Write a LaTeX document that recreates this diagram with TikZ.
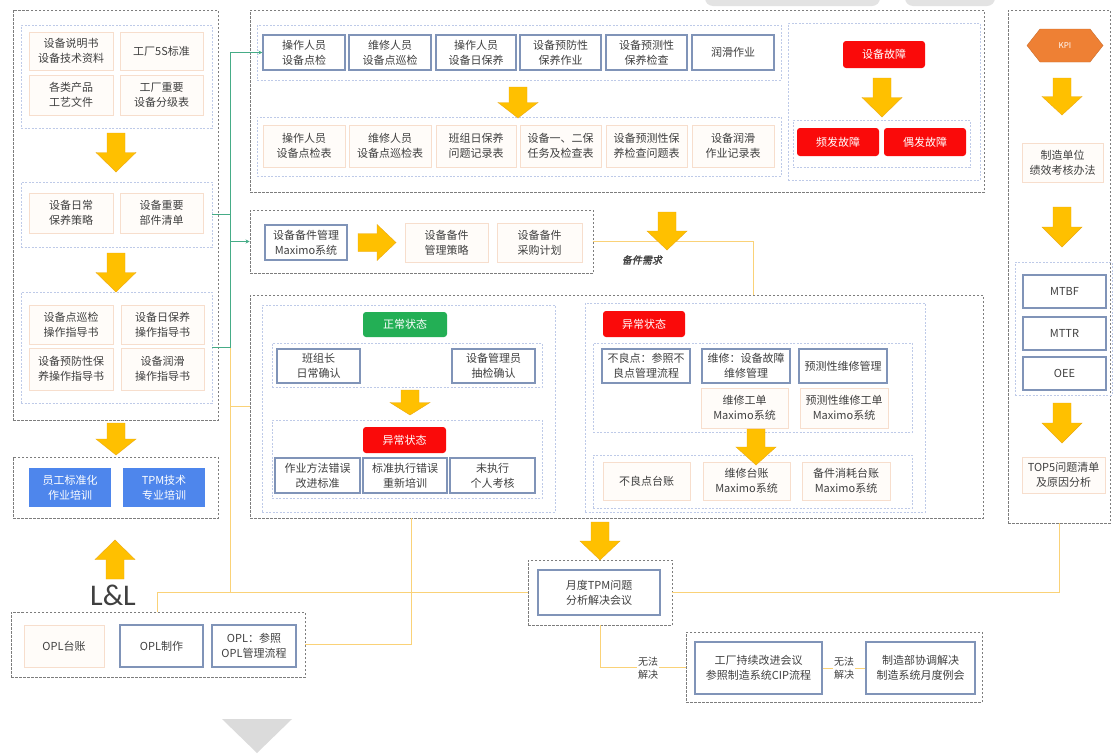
\documentclass[tikz,border=0pt]{standalone}
\usepackage{fontspec}
\setmainfont{Noto Sans CJK SC}
\newfontfamily\carl{Carlito}
\newfontfamily\cjkit[FakeSlant=0.2,FakeBold=1.5]{Noto Sans CJK SC}
\usetikzlibrary{arrows.meta}
\definecolor{txt}{RGB}{64,64,64}
\definecolor{bluebd}{RGB}{128,148,184}
\definecolor{peachbd}{RGB}{247,222,205}
\definecolor{peachf}{RGB}{255,252,249}
\definecolor{grpbd}{RGB}{190,202,232}
\definecolor{outbd}{RGB}{125,125,125}
\definecolor{arrY}{RGB}{255,192,0}
\definecolor{arrE}{RGB}{235,170,20}
\definecolor{redf}{RGB}{250,10,10}
\definecolor{greenf}{RGB}{35,175,85}
\definecolor{bluef}{RGB}{78,134,236}
\definecolor{orangef}{RGB}{238,128,52}
\definecolor{glc}{RGB}{70,172,135}
\definecolor{ylc}{RGB}{250,210,120}
\tikzset{
 box/.style={draw, align=center, inner sep=0pt, font=\fontsize{11}{15}\selectfont, text=txt},
 bluebox/.style={box, draw=bluebd, line width=1.1pt, fill=white},
 peachbox/.style={box, draw=peachbd, line width=0.6pt, fill=peachf},
 redbox/.style={box, draw=none, fill=redf, rounded corners=3pt, text=white},
 greenbox/.style={box, draw=none, fill=greenf, rounded corners=3pt, text=white},
 bluefbox/.style={box, draw=none, fill=bluef, text=white},
 outer/.style={draw=outbd, dash pattern=on 2.5pt off 1.5pt, line width=0.9pt, inner sep=0pt},
 grp/.style={draw=grpbd, dash pattern=on 2pt off 1.5pt, line width=0.7pt, inner sep=0pt},
 gl/.style={draw=glc, line width=1pt},
 yl/.style={draw=ylc, line width=1pt},
 blockarrow/.style={fill=arrY, draw=arrE, line width=0.4pt},
 lbl/.style={font=\fontsize{10}{13}\selectfont, text=txt, align=center, fill=white, inner sep=1pt}
}
\newcommand\bx[7]{\node[#2, minimum width={(#5)-(#3)}, minimum height={(#6)-(#4)}] (#1) at ({((#3)+(#5))/2},{((#4)+(#6))/2}) {#7};}
\newcommand\darr[3]{\filldraw[blockarrow] ({#1-9},#2) -- ({#1+9},#2) -- ({#1+9},{#2+0.5*(#3-#2)}) -- ({#1+20},{#2+0.5*(#3-#2)}) -- (#1,#3) -- ({#1-20},{#2+0.5*(#3-#2)}) -- ({#1-9},{#2+0.5*(#3-#2)}) -- cycle;}
\newcommand\rarr[3]{\filldraw[blockarrow] (#2,{#1-9}) -- (#2,{#1+9}) -- ({#2+0.5*(#3-#2)},{#1+9}) -- ({#2+0.5*(#3-#2)},{#1+18}) -- (#3,#1) -- ({#2+0.5*(#3-#2)},{#1-18}) -- ({#2+0.5*(#3-#2)},{#1-9}) -- cycle;}
\begin{document}
\begin{tikzpicture}[x=1pt,y=-1pt]
\useasboundingbox (0,0) rectangle (1115,753);
\fill[white] (0,0) rectangle (1115,753);
% faint shapes at the top edge and bottom
\fill[gray!22, rounded corners=8pt] (705,-12) rectangle (880,6);
\fill[gray!22, rounded corners=8pt] (905,-12) rectangle (995,6);
\fill[gray!28] (222,719) -- (292,719) -- (257,753) -- cycle;

% ---------- left column ----------
\bx{L}{outer}{13}{10}{218}{420}{}
\bx{LG1}{grp}{21}{25}{212}{128}{}
\bx{LG2}{grp}{21}{182}{212}{247}{}
\bx{LG3}{grp}{21}{292}{212}{403}{}
\bx{l1a}{peachbox}{29}{32}{113}{70}{设备说明书\\设备技术资料}
\bx{l1b}{peachbox}{120}{32}{203}{70}{工厂5S标准}
\bx{l1c}{peachbox}{29}{75}{113}{115}{各类产品\\工艺文件}
\bx{l1d}{peachbox}{120}{75}{203}{115}{工厂重要\\设备分级表}
\bx{l2a}{peachbox}{29}{193}{113}{233}{设备日常\\保养策略}
\bx{l2b}{peachbox}{120}{193}{203}{233}{设备重要\\部件清单}
\bx{l3a}{peachbox}{29}{305}{113}{344}{设备点巡检\\操作指导书}
\bx{l3b}{peachbox}{121}{305}{204}{344}{设备日保养\\操作指导书}
\bx{l3c}{peachbox}{29}{348}{113}{390}{设备预防性保\\养操作指导书}
\bx{l3d}{peachbox}{121}{348}{204}{390}{设备润滑\\操作指导书}
\bx{LT}{outer}{13}{457}{218}{518}{}
\bx{t1}{bluefbox}{29}{468}{111}{507}{员工标准化\\作业培训}
\bx{t2}{bluefbox}{123}{468}{205}{507}{TPM技术\\专业培训}
\node[font=\carl\fontsize{30}{30}\selectfont, text=txt] (LL) at (113,595) {L\&L};
\bx{OPL}{outer}{11}{612}{305}{677}{}
\bx{o1}{peachbox}{24}{625}{104}{667}{OPL台账}
\bx{o2}{bluebox}{120}{625}{203}{667}{OPL制作}
\bx{o3}{bluebox}{212}{625}{296}{667}{OPL：参照\\OPL管理流程}

% ---------- top group ----------
\bx{T}{outer}{250}{10}{984}{192}{}
\bx{TA}{grp}{257}{25}{781}{80}{}
\bx{TB}{grp}{257}{117}{781}{176}{}
\bx{TC}{grp}{788}{23}{980}{180}{}
\bx{TC2}{grp}{793}{120}{970}{167}{}
\bx{r1a}{bluebox}{263}{35}{345}{70}{操作人员\\设备点检}
\bx{r1b}{bluebox}{349}{35}{431}{70}{维修人员\\设备点巡检}
\bx{r1c}{bluebox}{436}{35}{516}{70}{操作人员\\设备日保养}
\bx{r1d}{bluebox}{520}{35}{601}{70}{设备预防性\\保养作业}
\bx{r1e}{bluebox}{606}{35}{687}{70}{设备预测性\\保养检查}
\bx{r1f}{bluebox}{692}{35}{774}{70}{润滑作业}
\bx{r2a}{peachbox}{263}{125}{345}{167}{操作人员\\设备点检表}
\bx{r2b}{peachbox}{349}{125}{431}{167}{维修人员\\设备点巡检表}
\bx{r2c}{peachbox}{436}{125}{516}{167}{班组日保养\\问题记录表}
\bx{r2d}{peachbox}{520}{125}{601}{167}{设备一、二保\\任务及检查表}
\bx{r2e}{peachbox}{606}{125}{687}{167}{设备预测性保\\养检查问题表}
\bx{r2f}{peachbox}{692}{125}{774}{167}{设备润滑\\作业记录表}
\bx{f0}{redbox}{843}{41}{925}{68}{设备故障}
\bx{f1}{redbox}{797}{128}{879}{156}{频发故障}
\bx{f2}{redbox}{884}{128}{966}{156}{偶发故障}

% ---------- spare parts ----------
\bx{S}{outer}{250}{210}{593}{273}{}
\bx{s1}{bluebox}{265}{225}{347}{260}{设备备件管理\\Maximo系统}
\bx{s2}{peachbox}{405}{223}{488}{262}{设备备件\\管理策略}
\bx{s3}{peachbox}{497}{223}{582}{262}{设备备件\\采购计划}

% ---------- lower middle ----------
\bx{M}{outer}{250}{295}{983}{518}{}
\bx{ML}{grp}{262}{305}{555}{512}{}
\bx{ML1}{grp}{272}{343}{542}{387}{}
\bx{ML2}{grp}{272}{420}{542}{498}{}
\bx{g0}{greenbox}{363}{312}{447}{337}{正常状态}
\bx{m1}{bluebox}{277}{349}{360}{383}{班组长\\日常确认}
\bx{m2}{bluebox}{452}{349}{535}{383}{设备管理员\\抽检确认}
\bx{r0}{redbox}{363}{427}{446}{453}{异常状态}
\bx{m3}{bluebox}{275}{458}{360}{493}{作业方法错误\\改进标准}
\bx{m4}{bluebox}{363}{458}{447}{493}{标准执行错误\\重新培训}
\bx{m5}{bluebox}{450}{458}{535}{493}{未执行\\个人考核}
\bx{MR}{grp}{585}{303}{925}{512}{}
\bx{MR1}{grp}{593}{343}{912}{432}{}
\bx{MR2}{grp}{593}{455}{912}{508}{}
\bx{r1}{redbox}{603}{311}{685}{337}{异常状态}
\bx{n1}{bluebox}{602}{349}{690}{383}{不良点：参照不\\良点管理流程}
\bx{n2}{bluebox}{702}{349}{790}{383}{维修：设备故障\\维修管理}
\bx{n3}{bluebox}{799}{349}{887}{383}{预测性维修管理}
\bx{n4}{peachbox}{701}{388}{788}{428}{维修工单\\Maximo系统}
\bx{n5}{peachbox}{800}{388}{888}{428}{预测性维修工单\\Maximo系统}
\bx{n6}{peachbox}{603}{462}{690}{500}{不良点台账}
\bx{n7}{peachbox}{703}{462}{790}{500}{维修台账\\Maximo系统}
\bx{n8}{peachbox}{802}{462}{890}{500}{备件消耗台账\\Maximo系统}

% ---------- monthly & escalation ----------
\bx{Mo}{outer}{528}{560}{672}{625}{}
\bx{mo}{bluebox}{538}{570}{660}{615}{月度TPM问题\\分析解决会议}
\bx{BR}{outer}{686}{632}{982}{702}{}
\bx{b1}{bluebox}{695}{642}{822}{694}{工厂持续改进会议\\参照制造系统CIP流程}
\bx{b2}{bluebox}{866}{642}{975}{694}{制造部协调解决\\制造系统月度例会}

% ---------- right column ----------
\bx{R}{outer}{1008}{10}{1110}{523}{}
\filldraw[fill=orangef, draw=orangef!85!black, line width=0.4pt] (1027,45.5) -- (1040,29) -- (1090,29) -- (1103,45.5) -- (1090,62) -- (1040,62) -- cycle;
\node[font=\fontsize{8}{9}\selectfont, text=white] (kpi) at (1065,45.5) {KPI};
\bx{k1}{peachbox}{1022}{143}{1103}{182}{制造单位\\绩效考核办法}
\bx{KG}{grp}{1015}{262}{1112}{395}{}
\bx{k2}{bluebox}{1023}{275}{1106}{308}{MTBF}
\bx{k3}{bluebox}{1023}{317}{1106}{350}{MTTR}
\bx{k4}{bluebox}{1023}{357}{1106}{390}{OEE}
\bx{k5}{peachbox}{1022}{457}{1105}{493}{TOP5问题清单\\及原因分析}

% ---------- connectors ----------
\coordinate (tx) at (230,0);
\coordinate (opx) at (157,0);
\coordinate (mx) at (411,0);
\coordinate (sx) at (753,0);
\draw[yl] (LG3.east -| tx) -- (tx |- Mo.west);
\draw[yl] (opx |- OPL.north) |- (Mo.west);
\draw[yl] (tx |- M.west) -- (M.west);
\draw[yl] (mx |- M.south) |- (OPL.east);
\draw[yl] (Mo.east) -| (R.south);
\draw[yl] (Mo.south) |- (BR.west);
\draw[yl] (b1.east) -- (b2.west);
\draw[yl] (S.east) -| (sx |- M.north);
\draw[gl] (LG3.east) -- (LG3.east -| tx) -- (LG2.east -| tx);
\draw[gl,-{Stealth[length=4pt,width=4pt]}] (LG2.east) -- (LG2.east -| tx) |- (r1a.west);
\draw[gl,-{Stealth[length=4pt,width=4pt]}] (LG2.east -| tx) |- (S.west);
\node[lbl] (nf1) at (648,668) {无法\\解决};
\node[lbl] (nf2) at (844,668) {无法\\解决};
\node[font=\cjkit\fontsize{10}{12}\selectfont, text=txt] (need) at (642,260) {备件需求};

% ---------- block arrows ----------
\darr{116}{133}{172}
\darr{116}{253}{292}
\darr{116}{423}{455}
\darr{115}{579}{540}
\darr{518}{87}{118}
\darr{882}{78}{117}
\rarr{242.5}{358}{396}
\darr{667}{212}{250}
\darr{410}{390}{415}
\darr{756}{429}{465}
\darr{600}{522}{560}
\darr{1062}{78}{115}
\darr{1062}{207}{247}
\darr{1062}{403}{443}
\end{tikzpicture}
\end{document}
